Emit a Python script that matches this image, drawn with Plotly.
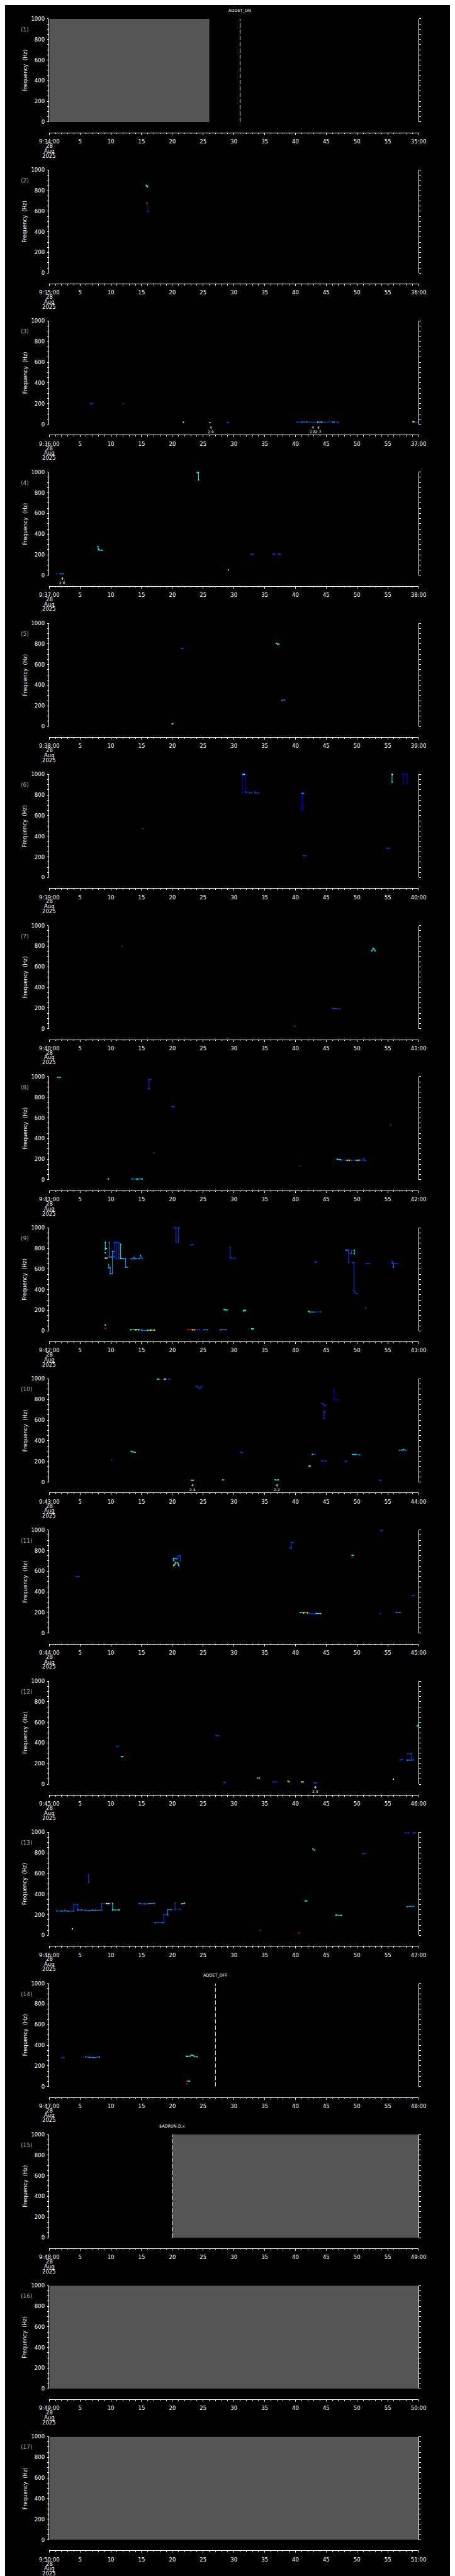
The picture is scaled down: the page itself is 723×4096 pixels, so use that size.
import plotly.graph_objects as go

W, H = 723, 4096
SX, SY = W / 1024, H / 5802

# ---------------- data ----------------
start_minutes = list(range(34, 51))          # panel k starts at 9:(33+k):00
date_lines = ["28", "Aug", "2025"]
freq_ticks = [0, 200, 400, 600, 800, 1000]
time_ticks = [0, 5, 10, 15, 20, 25, 30, 35, 40, 45, 50, 55, 60]

# grey "no data" blocks: panel -> (t0, t1) seconds
gray_blocks = {1: (0, 26), 15: (20, 60), 16: (0, 60), 17: (0, 60)}
# dashed event markers: panel -> (t, label)
event_lines = {1: (31, "ADDET_ON"), 14: (27, "ADDET_OFF"), 15: (20, "$ADRUN,D,x")}
# small two-line marks under the plots: panel -> (times, upper, lower)
marks_p03 = ([26.3, 42.8, 43.75, 62.06], ["4", "4", "4", "4"], ["2.9", "2.8", "2.7", "2.6"])
marks_p04 = ([2.07], ["4"], ["2.6"])
marks_p10 = ([23.25, 37.0], ["4", "4"], ["2.4", "2.2"])
marks_p12 = ([43.25], ["4"], ["2.4"])

# spectrogram tracks: (colour key, times [s], frequencies [Hz])
tracks_p02 = [
    ("C", [15.76, 15.86, 15.95], [851, 843, 837]),
    ("K", [16.0, 16.0], [679, 596]),
    ("R", [15.8], [679]),
    ("B", [16.05], [596]),
    ("B", [60.6], [11]),
]
tracks_p03 = [
    ("B", [6.7, 7.0], [200, 200]), ("B", [12.05], [200]),
    ("Y", [21.8], [20]), ("Y", [26.1], [16]), ("B", [26.3], [16]),
    ("B", [28.9, 29.1], [16, 16]),
    ("B", [40.2, 40.6], [22, 20]), ("L", [41.0, 41.9], [21, 22]),
    ("B", [42.3, 43.2], [20, 19]), ("C", [43.6, 44.3], [20, 21]),
    ("B", [44.7, 45.6], [18, 23]), ("L", [46.0, 46.3], [20, 20]),
    ("B", [46.8, 47.0], [19, 19]),
    ("Y", [59.1, 59.3], [24, 24]), ("B", [59.4, 60.2], [20, 20]),
    ("L", [60.5, 60.8], [21, 21]), ("B", [61.2, 62.2], [19, 19]),
]
tracks_p04 = [
    ("B", [1.2], [15]), ("L", [1.8, 2.25], [15, 15]),
    ("C", [24.05, 24.25, 24.25], [996, 996, 924]),
    ("C", [7.9, 8.0, 8.1, 8.6], [280, 252, 246, 242]),
    ("B", [32.8, 33.1], [205, 205]), ("B", [36.4, 36.6], [205, 205]),
    ("B", [37.3, 37.5], [205, 205]), ("C", [29.1], [53]),
]
tracks_p05 = [
    ("B", [21.5, 21.7], [756, 756]),
    ("C", [36.9, 37.1, 37.3], [805, 798, 797]),
    ("L", [37.8, 38.2], [253, 256]),
    ("R", [19.95], [25]), ("Y", [20.05], [25]),
]
tracks_p06 = [
    ("D", [31.36, 31.36, 31.9, 31.9], [821, 1000, 1000, 830]),
    ("C", [31.5, 31.7], [1000, 1000]),
    ("B", [31.9, 32.1], [830, 826]), ("B", [32.5, 32.8], [821, 821]),
    ("B", [33.4, 33.45, 34.0], [830, 821, 821]),
    ("D", [41.05, 41.05], [655, 817]), ("D", [41.2, 41.2], [660, 817]),
    ("L", [41.1, 41.3], [817, 815]),
    ("B", [15.2], [475]), ("B", [41.3, 41.7], [213, 209]),
    ("B", [54.9, 55.3], [285, 285]),
    ("C", [55.7, 55.7], [925, 1000]), ("Y", [55.75], [1000]),
    ("D", [57.4, 57.55, 57.55], [1000, 1000, 911]),
    ("D", [57.9, 58.15, 58.15], [1000, 1000, 911]),
]
tracks_p07 = [
    ("B", [11.8], [800]),
    ("C", [52.4, 52.6, 52.75, 52.95], [755, 777, 775, 755]),
    ("B", [46.0, 46.5, 47.15], [198, 195, 192]),
    ("R", [39.9], [25]),
    ("C", [61.4, 61.9], [991, 991]),
]
tracks_p08 = [
    ("C", [1.4, 1.8], [994, 994]),
    ("B", [16.1, 16.2, 16.2, 16.5], [883, 883, 972, 972]),
    ("B", [19.95, 20.25], [711, 706]), ("B", [17.0], [260]),
    ("Y", [9.6], [8]), ("L", [13.4, 14.2], [8, 8]), ("C", [14.3, 15.1], [8, 8]),
    ("B", [40.7], [132]), ("B", [55.45], [532]),
    ("C", [46.8, 47.3], [200, 195]), ("B", [47.5, 48.2], [192, 190]),
    ("Y", [48.4, 48.8], [190, 190]), ("B", [49.0, 49.8], [188, 188]),
    ("Y", [50.0, 50.4], [190, 190]),
    ("B", [50.5, 50.9, 51.1, 51.2, 51.4], [192, 190, 205, 190, 185]),
]
tracks_p09 = [
    ("C", [9.1, 9.1, 9.3], [858, 792, 800]), ("C", [9.1], [758]),
    ("Y", [9.1, 9.4], [706, 706]),
    ("L", [9.75, 9.75, 10.1], [858, 717, 717]),
    ("L", [9.65, 9.65, 9.9, 9.9, 10.25, 10.25, 10.5], [645, 613, 613, 555, 555, 770, 770]),
    ("B", [10.5, 10.6, 10.6, 10.9, 10.9], [720, 720, 858, 858, 700]),
    ("B", [10.9, 11.3, 11.3], [855, 855, 705]),
    ("C", [11.6, 11.6, 12.0], [840, 702, 702]),
    ("L", [12.0, 12.4, 12.4, 12.7], [702, 702, 617, 617]),
    ("L", [13.3, 13.7, 13.8, 14.0, 14.7, 14.8, 15.1], [700, 700, 711, 700, 700, 733, 705]),
    ("B", [20.3, 20.6, 20.6], [1000, 1000, 862]),
    ("B", [20.97, 20.97, 21.1], [862, 1000, 1000]),
    ("B", [23.0, 23.3], [834, 836]),
    ("B", [29.4, 29.4, 29.6, 30.1], [809, 711, 706, 706]),
    ("B", [43.2, 43.4], [668, 668]),
    ("L", [48.2, 48.5], [783, 783]), ("B", [48.63, 48.63], [783, 664]),
    ("B", [48.86, 49.09, 49.09], [749, 749, 777]),
    ("C", [49.55, 49.55], [783, 749]),
    ("B", [49.32, 49.5, 49.5, 49.68, 50.0], [664, 660, 391, 370, 362]),
    ("B", [51.5, 52.0], [655, 655]),
    ("B", [55.7, 55.7, 55.9], [674, 655, 655]), ("L", [55.9, 55.9], [655, 617]),
    ("B", [55.9, 56.5], [651, 655]),
    ("B", [51.4], [221]),
    ("G", [28.4, 28.6, 28.9], [208, 204, 202]),
    ("C", [31.6, 31.6, 31.9], [192, 200, 200]),
    ("G", [42.1, 42.3, 43.0], [192, 185, 183]), ("B", [43.0, 44.1], [183, 185]),
    ("C", [13.2, 14.0], [11, 11]), ("Y", [14.1, 14.5], [11, 11]),
    ("L", [14.6, 15.0, 15.1, 16.0], [11, 11, 4, 4]), ("C", [16.0, 16.4], [8, 8]),
    ("Y", [16.5, 17.1], [8, 8]),
    ("R", [22.5, 23.2], [11, 11]), ("Y", [23.3, 23.6], [11, 11]),
    ("B", [23.7, 24.4], [11, 11]), ("L", [25.1, 25.7], [11, 11]),
    ("L", [27.8, 28.7], [11, 11]), ("C", [32.9, 33.1], [21, 21]),
    ("C", [9.1], [57]), ("R", [9.15], [26]),
]
tracks_p10 = [
    ("C", [17.6, 17.8], [998, 998]), ("Y", [18.7, 18.9], [998, 998]),
    ("B", [19.0, 19.5], [998, 998]),
    ("B", [23.9, 24.2, 24.45, 24.75], [930, 920, 905, 925]),
    ("D", [46.3, 46.3, 46.85], [901, 797, 797]),
    ("B", [44.3, 44.6, 44.9], [763, 750, 740]),
    ("B", [44.65, 44.65, 44.8], [617, 681, 681]),
    ("B", [10.1], [214]), ("C", [13.3, 13.6, 13.95], [298, 292, 288]),
    ("B", [31.1, 31.4], [288, 285]), ("C", [42.2, 42.4], [154, 154]),
    ("C", [42.75], [268]), ("B", [42.95, 43.2], [268, 268]),
    ("B", [44.3, 44.9], [205, 203]), ("B", [48.1, 48.3], [199, 203]),
    ("C", [49.3, 49.7], [268, 268]), ("L", [49.9, 50.45], [268, 264]),
    ("L", [56.9, 57.3, 57.6, 57.9], [308, 310, 317, 308]), ("C", [57.5], [313]),
    ("C", [23.1, 23.4], [17, 17]), ("C", [28.2], [21]), ("B", [28.4], [21]),
    ("C", [36.7, 37.2], [21, 21]), ("B", [53.7, 53.85], [19, 17]),
]
tracks_p11 = [
    ("B", [4.4, 4.8], [549, 549]),
    ("C", [20.2, 20.2, 20.75], [704, 722, 722]),
    ("B", [20.75, 20.88, 20.88, 21.1, 21.1, 21.3, 21.3], [722, 722, 744, 744, 750, 750, 703]),
    ("Y", [20.2, 20.3], [655, 665]),
    ("C", [20.4, 20.5, 20.9, 21.05], [665, 684, 680, 655]),
    ("B", [39.1, 39.35, 39.35, 39.65], [826, 826, 879, 879]),
    ("C", [49.2, 49.4], [754, 754]), ("B", [53.85, 54.1], [996, 996]),
    ("B", [59.0, 59.3], [366, 366]),
    ("C", [40.8, 41.3], [200, 198]), ("Y", [41.3, 42.0], [197, 197]),
    ("B", [42.3, 42.7, 43.0, 43.3], [192, 190, 185, 190]),
    ("C", [43.4, 44.1], [192, 190]),
    ("B", [53.8], [191]), ("L", [56.4, 57.0], [201, 201]),
]
tracks_p12 = [
    ("B", [10.9, 11.2], [368, 368]), ("C", [11.7, 11.95], [268, 268]),
    ("B", [27.1, 27.5], [472, 470]), ("B", [28.4, 28.6], [19, 17]),
    ("C", [33.8], [60]), ("Y", [34.1], [60]),
    ("B", [36.4, 36.9], [25, 23]), ("Y", [38.8], [30]), ("C", [39.0], [23]),
    ("Y", [41.0, 41.25], [23, 23]), ("B", [43.05, 43.4], [13, 13]),
    ("Y", [55.9], [49]),
    ("B", [57.0, 57.4], [236, 240]),
    ("B", [58.2, 58.84, 58.84, 59.05], [296, 296, 234, 234]),
    ("L", [58.2, 58.6], [234, 234]), ("B", [59.2], [240]),
    ("C", [59.8, 60.0], [565, 575]),
    ("C", [60.4, 60.7], [236, 236]), ("B", [61.0, 61.6], [234, 236]),
    ("C", [61.9, 62.5], [238, 236]), ("B", [62.6, 62.9], [234, 234]),
]
tracks_p13 = [
    ("L", [1.25, 2.0, 2.5, 3.0, 3.97], [237, 235, 240, 235, 237]),
    ("B", [3.97, 3.97, 4.6, 4.6], [237, 300, 298, 247]),
    ("L", [4.65, 5.33], [247, 247]),
    ("L", [5.78, 6.5, 7.0, 7.5, 8.5], [243, 239, 245, 243, 245]),
    ("B", [8.5, 8.5, 10.0], [245, 309, 309]), ("Y", [9.3, 9.7], [309, 309]),
    ("C", [10.3, 10.3, 11.36], [309, 247, 247]),
    ("L", [14.63, 15.5, 16.2, 17.12], [309, 305, 309, 311]),
    ("L", [17.21, 18.48], [123, 123]),
    ("B", [18.6, 18.6, 19.16], [123, 201, 201]),
    ("L", [19.25, 19.25, 19.84], [201, 249, 249]),
    ("B", [20.43, 20.43, 21.29], [313, 252, 252]),
    ("C", [21.52, 21.97], [306, 313]),
    ("B", [6.4, 6.4], [584, 514]),
    ("Y", [3.75], [63]), ("B", [34.3], [49]), ("R", [40.55], [25]),
    ("C", [41.6, 41.85], [334, 334]), ("C", [42.85, 43.1], [837, 827]),
    ("B", [50.9, 51.3], [790, 795]),
    ("B", [57.9, 58.4], [995, 995]), ("B", [59.1, 59.5], [995, 995]),
    ("C", [46.6, 47.5], [197, 195]),
    ("L", [58.15, 58.7, 59.2], [278, 282, 282]),
]
tracks_p14 = [
    ("B", [2.05, 2.4], [280, 280]),
    ("L", [5.9, 6.5, 7.2, 8.15], [287, 282, 280, 287]),
    ("C", [22.3, 22.9, 23.2, 23.5, 24.0], [293, 295, 306, 295, 289]),
    ("Y", [22.4], [293]),
    ("C", [22.5, 22.8], [52, 52]), ("R", [22.4], [52]), ("R", [22.4], [25]),
]

panel_tracks = {2: tracks_p02, 3: tracks_p03, 4: tracks_p04, 5: tracks_p05,
                6: tracks_p06, 7: tracks_p07, 8: tracks_p08, 9: tracks_p09,
                10: tracks_p10, 11: tracks_p11, 12: tracks_p12, 13: tracks_p13,
                14: tracks_p14}
panel_marks = {3: marks_p03, 4: marks_p04, 10: marks_p10, 12: marks_p12}

COLORS = {"D": "#0000e0", "B": "#0040ff", "L": "#0098ff", "C": "#00ffff",
          "G": "#00ff80", "Y": "#ffff00", "R": "#ff1000", "K": "#1a1a70"}

# ---------------- styling ----------------
FONT = "DejaVu Sans"
TICK_FS = 8.5
GRAY = "#555555"
PERIOD = 341.2     # reference px between panels
PLOT_H = 233.0     # reference px plot height
X0, X1 = 80.0, 944.5

fig = go.Figure()
layout = dict(width=W, height=H, margin=dict(l=0, r=0, t=0, b=0, pad=0),
              paper_bgcolor="black", plot_bgcolor="black", showlegend=False)
shapes, annots = [], []


def yp(px_full):
    return 1 - px_full * SY / H


def xp(px_full):
    return px_full * SX / W


for i, m in enumerate(start_minutes):
    k = i + 1
    s = "" if k == 1 else str(k)
    top = 24 + i * PERIOD
    bot = top + PLOT_H
    axis_line = top + 257
    tick_text = [f"9:{m}:00"] + [str(v) for v in time_ticks[1:-1]] + [f"{m + 1}:00"]

    layout[f"xaxis{s}"] = dict(
        domain=[xp(X0), xp(X1)], anchor="free", position=yp(axis_line),
        range=[0, 60], showgrid=False, zeroline=False, fixedrange=True,
        showline=True, linecolor="white", linewidth=1,
        ticks="outside", ticklen=3, tickwidth=1, tickcolor="white",
        tickvals=time_ticks, ticktext=tick_text, ticklabelstandoff=3,
        tickfont=dict(family=FONT, size=TICK_FS, color="white"),
        minor=dict(ticks="outside", dtick=1, ticklen=1.5, tickwidth=1,
                   tickcolor="white", showgrid=False),
    )
    layout[f"yaxis{s}"] = dict(
        domain=[yp(bot), yp(top)], anchor=f"x{s}", range=[0, 1000],
        showgrid=False, zeroline=False, fixedrange=True,
        showline=True, linecolor="white", linewidth=1, mirror="ticks",
        ticks="outside", ticklen=2.5, tickwidth=1, tickcolor="white",
        tickvals=freq_ticks, ticktext=[str(v) for v in freq_ticks],
        ticklabelstandoff=2,
        tickfont=dict(family=FONT, size=TICK_FS, color="white"),
        minor=dict(ticks="outside", dtick=50, ticklen=2.5, tickwidth=1,
                   tickcolor="white", showgrid=False),
    )

    # keep every subplot alive
    fig.add_trace(go.Scatter(x=[None], y=[None], xaxis=f"x{s}", yaxis=f"y{s}",
                             mode="markers", hoverinfo="skip"))

    if k in gray_blocks:
        t0, t1 = gray_blocks[k]
        shapes.append(dict(type="rect", xref=f"x{s}", yref=f"y{s}", x0=t0, x1=t1,
                           y0=0, y1=1000, fillcolor=GRAY, line=dict(width=0),
                           layer="below"))
    if k in event_lines:
        t, lab = event_lines[k]
        shapes.append(dict(type="line", xref=f"x{s}", yref=f"y{s}", x0=t, x1=t,
                           y0=0, y1=1000, layer="above",
                           line=dict(color="white", width=1, dash="7px,3px")))
        annots.append(dict(text=lab, xref=f"x{s}", yref=f"y{s} domain", x=t,
                           y=1 + 18 / PLOT_H, showarrow=False, xanchor="center",
                           yanchor="middle",
                           font=dict(family=FONT, size=6.5, color="white")))
    if k in panel_marks:
        ts, up, lo = panel_marks[k]
        for t, a, b in zip(ts, up, lo):
            for txt, off in ((a, 6.7), (b, 16.3)):
                annots.append(dict(text=txt, xref=f"x{s}", yref=f"y{s} domain", x=t,
                                   y=-off / PLOT_H, showarrow=False, xanchor="center",
                                   yanchor="middle",
                                   font=dict(family=FONT, size=6, color="white")))
    for ck, ts, fs in panel_tracks.get(k, []):
        c = COLORS[ck]
        fig.add_trace(go.Scatter(
            x=ts, y=fs, xaxis=f"x{s}", yaxis=f"y{s}", mode="lines+markers",
            line=dict(color=c, width=1), marker=dict(color=c, size=2, symbol="square"),
            cliponaxis=False, hoverinfo="skip"))

    # panel number
    annots.append(dict(text=f"({k})", xref="paper", yref="paper", x=xp(11),
                       y=yp(top + 24), showarrow=False, xanchor="left", yanchor="middle",
                       font=dict(family=FONT, size=9, color="#a8a8a8")))
    # y axis title
    annots.append(dict(text="Frequency  (Hz)", xref="paper", yref="paper", x=xp(23),
                       y=yp(top + PLOT_H / 2), showarrow=False, textangle=-90,
                       xanchor="center", yanchor="middle",
                       font=dict(family=FONT, size=8.5, color="white")))
    # date under the first time tick
    for line_txt, off in zip(date_lines, (287, 298, 309)):
        annots.append(dict(text=line_txt, xref="paper", yref="paper", x=xp(X0),
                           y=yp(top + off), showarrow=False, xanchor="center",
                           yanchor="middle",
                           font=dict(family=FONT, size=TICK_FS, color="white")))

layout["shapes"] = shapes
layout["annotations"] = annots
fig.update_layout(**layout)
fig.write_html("out.html")
